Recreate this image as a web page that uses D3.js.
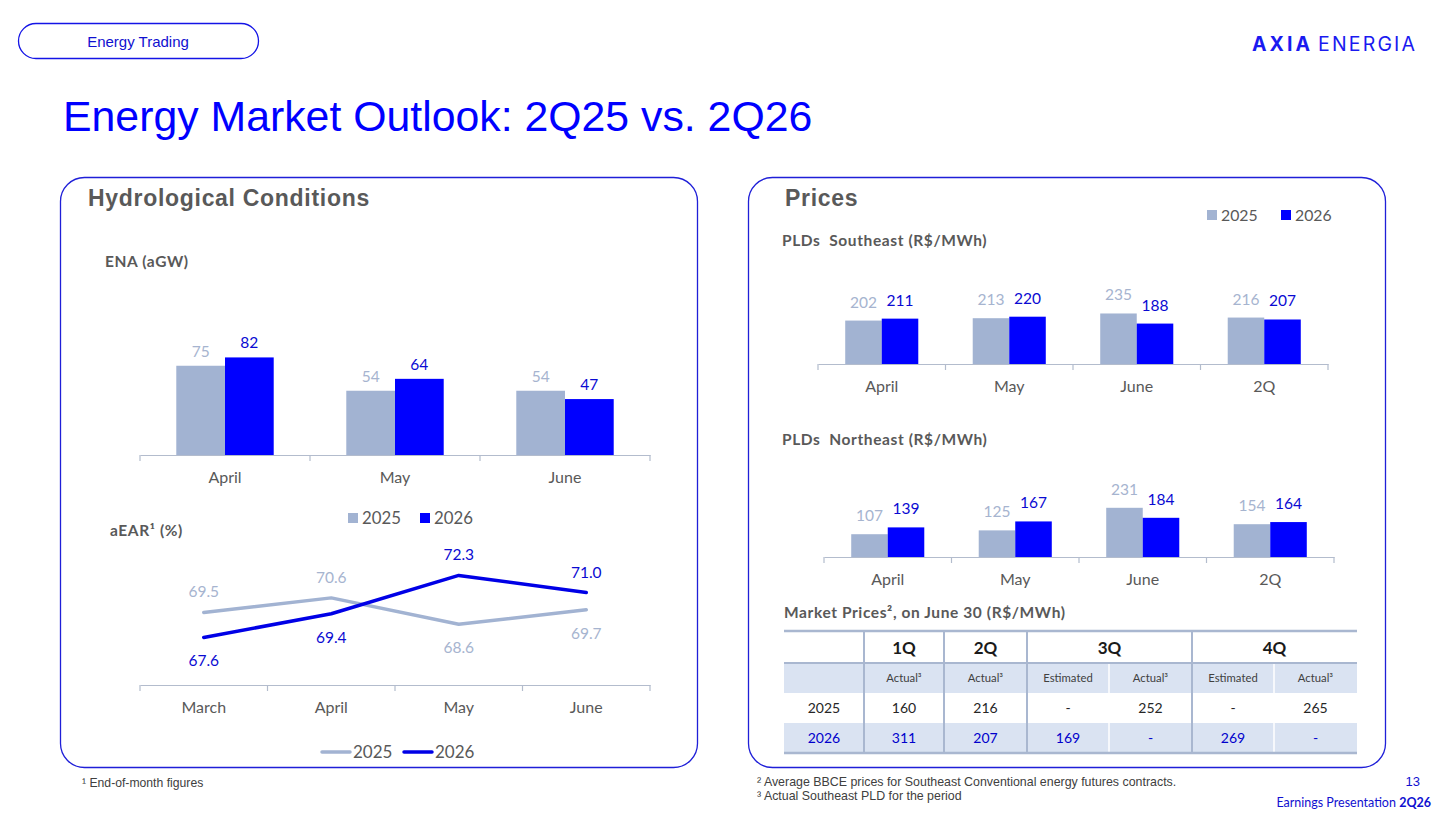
<!DOCTYPE html>
<html><head><meta charset="utf-8">
<script src="https://cdn.jsdelivr.net/npm/d3@7"></script>
<style>
body{margin:0;background:#fff;}
svg{display:block;}
</style></head>
<body>
<svg id="c" width="1450" height="815"></svg>
<script>
// ---------- DATA ----------
const seriesYears = ["2025", "2026"];
const enaMonths = ["April", "May", "June"];
const ena2025 = [75, 54, 54];
const ena2026 = [82, 64, 47];
const earMonths = ["March", "April", "May", "June"];
const ear2025 = [69.5, 70.6, 68.6, 69.7];
const ear2026 = [67.6, 69.4, 72.3, 71.0];
const pldCats = ["April", "May", "June", "2Q"];
const pldSE2025 = [202, 213, 235, 216];
const pldSE2026 = [211, 220, 188, 207];
const pldNE2025 = [107, 125, 231, 154];
const pldNE2026 = [139, 167, 184, 164];
const tableQuarters = ["1Q", "2Q", "3Q", "4Q"];
const tableQuarterSpans = [1, 1, 2, 2];
const tableSubHeaders = ["Actual³", "Actual³", "Estimated", "Actual³", "Estimated", "Actual³"];
const tableYears = ["2025", "2026"];
const market2025 = ["160", "216", "-", "252", "-", "265"];
const market2026 = ["311", "207", "169", "-", "269", "-"];

// ---------- STYLE ----------
const C25 = "#a2b3d2", C26 = "#0000ff";
const L25 = "#a6b4cf", L26 = "#0a0ad2";
const GREY = "#595959";
const AX = "#b3bccd";
const CAL = "Lato, 'Open Sans', sans-serif";
const ARIAL = "'Liberation Sans', Arial, sans-serif";
const BLUE = "#0000ff";

const svg = d3.select("#c");

// ---------- HEADER ----------
svg.append("rect").attr("x", 18.5).attr("y", 23.5).attr("width", 240).attr("height", 35)
  .attr("rx", 17.5).attr("fill", "none").attr("stroke", "#1414e6").attr("stroke-width", 1.3);
svg.append("text").attr("x", 138).attr("y", 46.5).attr("text-anchor", "middle")
  .attr("font-family", ARIAL).attr("font-size", 15).attr("fill", "#1010d0").text("Energy Trading");

const logo = svg.append("text").attr("y", 50.5).attr("font-family", "Inter, 'Noto Sans', sans-serif")
  .attr("font-size", 19.5).attr("fill", "#1a1af0");
logo.append("tspan").attr("x", 1252).attr("font-weight", 700).attr("textLength", 58).attr("lengthAdjust", "spacing").text("AXIA");
logo.append("tspan").attr("x", 1318).attr("font-weight", 400).attr("textLength", 97).attr("lengthAdjust", "spacing").text("ENERGIA");

svg.append("text").attr("x", 63).attr("y", 131).attr("font-family", ARIAL).attr("font-size", 42.8)
  .attr("fill", BLUE).text("Energy Market Outlook: 2Q25 vs. 2Q26");

// ---------- PANELS ----------
[[60.5, "Hydrological Conditions", 88], [748.5, "Prices", 785]].forEach(([x, t, tx]) => {
  svg.append("rect").attr("x", x).attr("y", 177.5).attr("width", 637).attr("height", 590)
    .attr("rx", 24).attr("fill", "none").attr("stroke", "#1f1fd8").attr("stroke-width", 1.3);
  svg.append("text").attr("x", tx).attr("y", 206).attr("font-family", ARIAL).attr("font-weight", 700)
    .attr("font-size", 23).attr("letter-spacing", 0.7).attr("fill", GREY).text(t);
});

function label(x, y, t, opts = {}) {
  return svg.append("text").attr("x", x).attr("y", y).attr("font-family", opts.font || CAL)
    .attr("font-size", opts.size || 15).attr("font-weight", opts.weight || 400)
    .attr("letter-spacing", opts.ls || 0).attr("xml:space", "preserve")
    .attr("fill", opts.fill || GREY).attr("text-anchor", opts.anchor || "start").text(t);
}
const SUB = { weight: 700, size: 15.5, ls: 0.6 };

// ---------- CATEGORY AXIS (Excel style, ticks between categories) ----------
function catAxis(xBand, baseY, labelDy) {
  const g = svg.append("g").attr("transform", `translate(0,${baseY})`);
  g.call(d3.axisBottom(xBand).tickSize(0).tickPadding(labelDy))
    .call(a => a.select(".domain").attr("stroke", AX).attr("stroke-width", 1.2))
    .call(a => a.selectAll("text").attr("font-family", CAL).attr("font-size", 16).attr("fill", GREY));
  const edges = xBand.domain().map(d => xBand(d)).concat([xBand.range()[1]]);
  g.selectAll("line.tk").data(edges).join("line").attr("class", "tk")
    .attr("x1", d => d).attr("x2", d => d).attr("y1", 0).attr("y2", 6)
    .attr("stroke", AX).attr("stroke-width", 1.2);
  return g;
}

// ---------- GROUPED BARS ----------
function barChart(cats, s25, s26, cfg) {
  const x = d3.scaleBand().domain(cats).range([cfg.x0, cfg.x1]).padding(0);
  const xs = d3.scaleBand().domain(seriesYears).range([0, x.bandwidth()]).paddingInner(0).paddingOuter(0.745);
  const y = d3.scaleLinear().domain([0, cfg.max]).range([cfg.base, cfg.base - cfg.max * cfg.k]);
  const data = [];
  cats.forEach((c, i) => {
    data.push({ c, s: "2025", v: s25[i] });
    data.push({ c, s: "2026", v: s26[i] });
  });
  svg.append("g").selectAll("rect").data(data).join("rect")
    .attr("x", d => x(d.c) + xs(d.s)).attr("width", xs.bandwidth())
    .attr("y", d => y(d.v)).attr("height", d => y(0) - y(d.v))
    .attr("fill", d => d.s === "2025" ? C25 : C26);
  svg.append("g").selectAll("text").data(data).join("text")
    .attr("x", d => x(d.c) + xs(d.s) + xs.bandwidth() / 2).attr("y", d => y(d.v) - cfg.lblGap)
    .attr("text-anchor", "middle").attr("font-family", CAL).attr("font-size", 15.5)
    .attr("fill", d => d.s === "2025" ? L25 : L26).text(d => d.v);
  catAxis(x, cfg.base, cfg.tickPad || 12);
}

// ---------- LEFT: ENA ----------
label(105, 267, "ENA (aGW)", SUB);
barChart(enaMonths, ena2025, ena2026, { x0: 140, x1: 650, base: 455, k: 1.19, max: 100, lblGap: 9, tickPad: 17 });

// bar legend (squares)
function squareLegend(x0, y0, gap, size) {
  seriesYears.forEach((s, i) => {
    const x = x0 + i * gap;
    svg.append("rect").attr("x", x).attr("y", y0 - 5).attr("width", 10).attr("height", 10)
      .attr("fill", s === "2025" ? C25 : C26);
    label(x + 14, y0 + 6, s, { size });
  });
}
squareLegend(348, 518, 72, 16.8);

// ---------- LEFT: aEAR line ----------
label(110, 536, "aEAR¹ (%)", SUB);
const xl = d3.scaleBand().domain(earMonths).range([140, 650]).padding(0);
const yl = d3.scaleLinear().domain([64, 75]).range([685, 685 - 11 * 13.2]);
const line = d3.line().x((d, i) => xl(earMonths[i]) + xl.bandwidth() / 2).y(d => yl(d));
svg.append("path").datum(ear2025).attr("d", line).attr("fill", "none").attr("stroke", C25)
  .attr("stroke-width", 3.5).attr("stroke-linejoin", "round").attr("stroke-linecap", "round");
svg.append("path").datum(ear2026).attr("d", line).attr("fill", "none").attr("stroke", "#0000e6")
  .attr("stroke-width", 3.5).attr("stroke-linejoin", "round").attr("stroke-linecap", "round");
earMonths.forEach((m, i) => {
  const cx = xl(m) + xl.bandwidth() / 2;
  [[ear2025, ear2026, L25], [ear2026, ear2025, L26]].forEach(([a, b, col]) => {
    const above = a[i] >= b[i];
    const yy = above ? yl(a[i]) - 15 : yl(a[i]) + 29;
    svg.append("text").attr("x", cx).attr("y", yy).attr("text-anchor", "middle")
      .attr("font-family", CAL).attr("font-size", 15.5).attr("fill", col).text(a[i].toFixed(1));
  });
});
catAxis(xl, 685, 17);
// line legend
seriesYears.forEach((s, i) => {
  const x = i === 0 ? 322 : 404;
  svg.append("line").attr("x1", x).attr("x2", x + 28).attr("y1", 752).attr("y2", 752)
    .attr("stroke", s === "2025" ? C25 : "#0000e6").attr("stroke-width", 3.5).attr("stroke-linecap", "round");
  label(x + 31, 758, s, { size: 17 });
});

// ---------- RIGHT: Prices ----------
squareLegend(1207, 215, 74, 15.8);
label(782, 246, "PLDs  Southeast (R$/MWh)", SUB);
barChart(pldCats, pldSE2025, pldSE2026, { x0: 818, x1: 1328, base: 364, k: 0.215, max: 300, lblGap: 13, tickPad: 17 });
label(782, 445, "PLDs  Northeast (R$/MWh)", SUB);
barChart(pldCats, pldNE2025, pldNE2026, { x0: 824, x1: 1334, base: 557, k: 0.213, max: 300, lblGap: 13, tickPad: 17 });

// ---------- TABLE ----------
label(784, 618, "Market Prices², on June 30 (R$/MWh)", SUB);
const colEdges = [784, 864, 944, 1027, 1109, 1192, 1274, 1357];
const rowEdges = [631, 663, 693, 723, 753];
const tbl = svg.append("g");
[1, 3].forEach(r => {
  tbl.append("rect").attr("x", colEdges[0]).attr("y", rowEdges[r]).attr("width", colEdges[7] - colEdges[0])
    .attr("height", rowEdges[r + 1] - rowEdges[r]).attr("fill", "#dae3f2");
});
[1109, 1274].forEach(x => {
  tbl.append("line").attr("x1", x).attr("x2", x).attr("y1", rowEdges[1]).attr("y2", rowEdges[4])
    .attr("stroke", "#ffffff").attr("stroke-width", 1.5);
});
let ci = 1;
tableQuarters.forEach((q, i) => {
  const xa = colEdges[ci], xb = colEdges[ci + tableQuarterSpans[i]];
  ci += tableQuarterSpans[i];
  tbl.append("text").attr("x", (xa + xb) / 2).attr("y", 654).attr("text-anchor", "middle")
    .attr("font-family", CAL).attr("font-weight", 700).attr("font-size", 17).attr("fill", "#1a1a1a").text(q);
});
tableSubHeaders.forEach((t, i) => {
  tbl.append("text").attr("x", (colEdges[i + 1] + colEdges[i + 2]) / 2).attr("y", 681.5).attr("text-anchor", "middle")
    .attr("font-family", CAL).attr("font-size", 11.3).attr("fill", "#404040").text(t);
});
[[market2025, "#262626", 712.5], [market2026, "#0000cc", 742.5]].forEach(([row, col, yy], r) => {
  tbl.append("text").attr("x", (colEdges[0] + colEdges[1]) / 2).attr("y", yy).attr("text-anchor", "middle")
    .attr("font-family", CAL).attr("font-size", 14).attr("fill", col).text(tableYears[r]);
  row.forEach((v, i) => {
    tbl.append("text").attr("x", (colEdges[i + 1] + colEdges[i + 2]) / 2).attr("y", yy).attr("text-anchor", "middle")
      .attr("font-family", CAL).attr("font-size", 14).attr("fill", col).text(v);
  });
});
const RULE = "#a9b7d0";
[631, 663, 753].forEach(y => {
  tbl.append("line").attr("x1", colEdges[0]).attr("x2", colEdges[7]).attr("y1", y).attr("y2", y)
    .attr("stroke", RULE).attr("stroke-width", y === 663 ? 2 : 2.5);
});
[864, 944, 1027, 1192].forEach(x => {
  tbl.append("line").attr("x1", x).attr("x2", x).attr("y1", 631).attr("y2", 753)
    .attr("stroke", RULE).attr("stroke-width", 2);
});

// ---------- FOOTNOTES ----------
label(82, 787, "¹ End-of-month figures", { font: ARIAL, size: 12.2, fill: "#404040" });
label(757, 786, "² Average BBCE prices for Southeast Conventional energy futures contracts.", { font: ARIAL, size: 12.4, fill: "#404040" });
label(757, 800, "³ Actual Southeast PLD for the period", { font: ARIAL, size: 12.4, fill: "#404040" });
label(1420, 786, "13", { font: ARIAL, size: 13, fill: "#1010d0", anchor: "end" });
const ep = svg.append("text").attr("x", 1431).attr("y", 807).attr("text-anchor", "end")
  .attr("font-family", CAL).attr("font-size", 12.5).attr("fill", "#1010d0");
ep.append("tspan").text("Earnings Presentation ");
ep.append("tspan").attr("font-weight", 700).text("2Q26");
</script>
</body></html>
